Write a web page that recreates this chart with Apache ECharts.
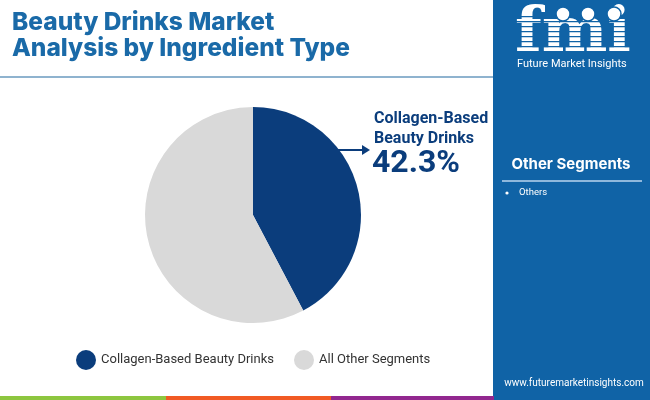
<!DOCTYPE html>
<html><head><meta charset="utf-8">
<script src="https://cdn.jsdelivr.net/npm/echarts@6/dist/echarts.min.js"></script>
<style>html,body{margin:0;padding:0;background:#fff}#c{width:650px;height:400px}</style>
</head><body><div id="c"></div>
<script>
const categories = ['Collagen-Based Beauty Drinks', 'All Other Segments'];
const shares = [42.3, 57.7];
const colors = ['#0b3d7c', '#d9d9d9'];
const otherSegments = ['Others'];

const chart = echarts.init(document.getElementById('c'));
const panel = '#1063a6';
const graphics = [
  {type:'rect', shape:{x:493,y:0,width:157,height:400}, style:{fill:panel}, z:0},
  {type:'line', shape:{x1:0,y1:77,x2:493,y2:77}, style:{stroke:'#8fb3cf',lineWidth:2}},
  {type:'text', style:{x:12, y:10, text:'Beauty Drinks Market\nAnalysis by Ingredient Type', font:'800 24.5px Inter', fill:'#1a6aa8', lineHeight:26, verticalAlign:'top'}},
  // logo
  {type:'text', style:{x:515, y:4, text:'fmi', font:'bold 62px "DejaVu Serif"', fill:'#ffffff', verticalAlign:'top'}, z:5},
  {type:'text', style:{x:517, y:59, text:'Future Market Insights', font:'11px Roboto', fill:'#ffffff', verticalAlign:'top'}},
  {type:'text', style:{x:571, y:157, text:'Other Segments', font:'bold 15px Inter', fill:'#ffffff', align:'center', verticalAlign:'top'}},
  {type:'line', shape:{x1:502,y1:181,x2:642,y2:181}, style:{stroke:'#8fb8dc',lineWidth:2}},
  {type:'text', style:{x:574, y:378, text:'www.futuremarketinsights.com', font:'10px Roboto', fill:'#ffffff', align:'center', verticalAlign:'top'}},
  {type:'rect', shape:{x:0,y:396,width:166,height:4}, style:{fill:'#8dc63f'}},
  {type:'rect', shape:{x:166,y:396,width:165,height:4}, style:{fill:'#f15a24'}},
  {type:'rect', shape:{x:331,y:396,width:163,height:4}, style:{fill:'#92278f'}},
  // callout
  {type:'line', shape:{x1:334,y1:150,x2:363,y2:150}, style:{stroke:colors[0],lineWidth:2}},
  {type:'polygon', shape:{points:[[362,145],[370,150],[362,155]]}, style:{fill:colors[0]}},
  {type:'text', style:{x:374, y:109, text:'Collagen-Based\nBeauty Drinks', font:'bold 16px Roboto', fill:colors[0], lineHeight:20, verticalAlign:'top'}},
  {type:'text', style:{x:372, y:148, text:shares[0].toFixed(1)+'%', font:'bold 32px Roboto', fill:colors[0], verticalAlign:'top'}}
];
// logo stripes
for (let y=16; y<56; y+=5) graphics.push({type:'rect', shape:{x:513,y:y,width:120,height:1.3}, style:{fill:panel}, z:10});
// logo globes
[[563,14],[588,14],[614,14]].forEach(p=>graphics.push({type:'circle', shape:{cx:p[0],cy:p[1],r:7}, style:{fill:'#ffffff', stroke:panel, lineWidth:1.5}, z:11}));
otherSegments.forEach((s,i)=>{
  graphics.push({type:'circle', shape:{cx:507,cy:193+i*16,r:1.6}, style:{fill:'#ffffff'}});
  graphics.push({type:'text', style:{x:519, y:193+i*16, text:s, font:'9.5px Roboto', fill:'#ffffff', verticalAlign:'middle'}});
});

chart.setOption({
  animation:false,
  legend:{
    data:categories, left:71, top:345, icon:'circle', itemWidth:20, itemHeight:20, itemGap:20,
    textStyle:{fontFamily:'Roboto', fontSize:13, color:'#333'}
  },
  series:[{
    type:'pie', center:[253,215], radius:[0,108], startAngle:90, clockwise:true,
    label:{show:false}, labelLine:{show:false}, silent:true,
    data:categories.map((c,i)=>({name:c, value:shares[i], itemStyle:{color:colors[i]}}))
  }],
  graphic:graphics
});
</script></body></html>
